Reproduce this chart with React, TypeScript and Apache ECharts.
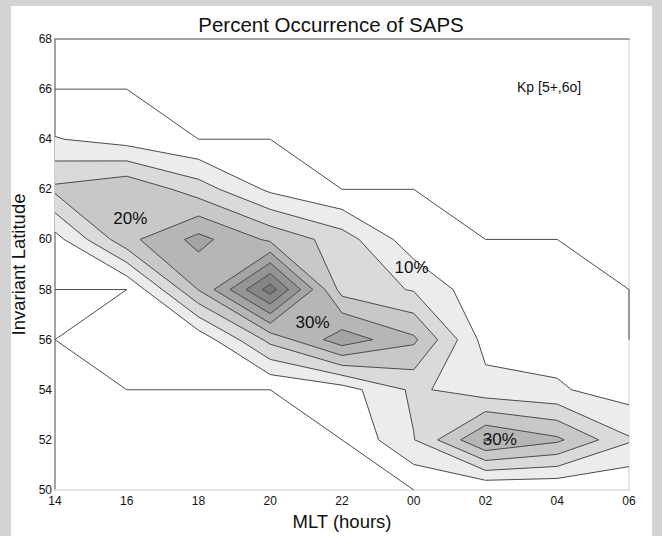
import React, { useEffect, useRef } from "react";
import * as echarts from "echarts";

// MLT grid columns (14 .. 30 = 06 next day) and their tick labels
const mltTicks = [14, 16, 18, 20, 22, 24, 26, 28, 30];
const mltLabels = ["14", "16", "18", "20", "22", "00", "02", "04", "06"];
// invariant latitude rows
const latitudes = [50, 52, 54, 56, 58, 60, 62, 64, 66, 68];

// percent occurrence, one row per latitude, one value per MLT column
const lat50 = [5, 5, 5, 5, 5, 5, 5.1, 5.2, 5.1];
const lat52 = [5, 5, 5, 5, 5, 14.8, 30.4, 26, 15.6];
const lat54 = [5, 5, 5, 5, 7.65, 16, 12, 10.6, 7.6];
const lat56 = [5, 7, 6.5, 21.5, 33, 26, 8, 8, 5];
const lat58 = [5, 5, 25.2, 47.5, 18, 14.6, 6.2, 6, 5];
const lat60 = [8.05, 23.5, 31.6, 24, 17.5, 7, 5, 5, 5];
const lat62 = [21.1, 24.3, 17.5, 9, 5, 5, 5, 5, 5];
const lat64 = [10.3, 7.9, 5, 5, 5, 5, 5, 5, 5];
const lat66 = [5, 5, 5, 5, 5, 5, 5, 5, 5];
const lat68 = [5, 5, 5, 5, 5, 5, 5, 5, 5];
const occurrence = [lat50, lat52, lat54, lat56, lat58, lat60, lat62, lat64, lat66, lat68];

// contour levels (%) and the fill of the band above each level
const levels = [5, 10, 15, 20, 25, 30, 35, 40, 45];
const bandColors = ["#ffffff", "#ececec", "#dadada", "#c8c8c8", "#b6b6b6", "#a4a4a4", "#949494", "#868686", "#797979"];

// in-plot percentage annotations
const noteTexts = ["20%", "10%", "30%", "30%"];
const noteMlt = [16.1, 23.94, 21.18, 26.4];
const noteLat = [60.83, 58.89, 56.7, 52.03];

type Pt = [number, number];

function cellGeometry(i: number, j: number, L: number) {
  const x0 = mltTicks[i], x1 = mltTicks[i + 1];
  const y0 = latitudes[j], y1 = latitudes[j + 1];
  const cs: Pt[] = [[x0, y0], [x1, y0], [x1, y1], [x0, y1]];
  const vs = [occurrence[j][i], occurrence[j][i + 1], occurrence[j + 1][i + 1], occurrence[j + 1][i]];
  const ins = vs.map((v) => v > L);
  const cross: (Pt | null)[] = [];
  for (let e = 0; e < 4; e++) {
    const a = e, b = (e + 1) % 4;
    if (ins[a] !== ins[b]) {
      const t = (L - vs[a]) / (vs[b] - vs[a]);
      cross.push([cs[a][0] + t * (cs[b][0] - cs[a][0]), cs[a][1] + t * (cs[b][1] - cs[a][1])]);
    } else cross.push(null);
  }
  const nIn = ins.filter(Boolean).length;
  const saddle = nIn === 2 && ins[0] === ins[2];
  const denom = vs[0] + vs[2] - vs[1] - vs[3];
  const saddleValue = denom !== 0 ? (vs[0] * vs[2] - vs[1] * vs[3]) / denom : (vs[0] + vs[1] + vs[2] + vs[3]) / 4;
  const centerIn = saddleValue > L;
  const polys: Pt[][] = [];
  const segs: Pt[][] = [];
  if (nIn === 0) return { polys, segs };
  if (saddle) {
    for (let k = 0; k < 4; k++) {
      const prev = cross[(k + 3) % 4] as Pt, next = cross[k] as Pt;
      if (centerIn) {
        if (!ins[k]) segs.push([prev, next]);
      } else if (ins[k]) {
        segs.push([prev, next]);
        polys.push([prev, cs[k], next]);
      }
    }
    if (centerIn) {
      const poly: Pt[] = [];
      for (let e = 0; e < 4; e++) {
        if (ins[e]) poly.push(cs[e]);
        if (cross[e]) poly.push(cross[e] as Pt);
      }
      polys.push(poly);
    }
  } else {
    const poly: Pt[] = [];
    const cr: Pt[] = [];
    for (let e = 0; e < 4; e++) {
      if (ins[e]) poly.push(cs[e]);
      if (cross[e]) {
        poly.push(cross[e] as Pt);
        cr.push(cross[e] as Pt);
      }
    }
    polys.push(poly);
    if (cr.length === 2) segs.push([cr[0], cr[1]]);
  }
  return { polys, segs };
}

function levelGeometry(L: number) {
  const polys: Pt[][] = [];
  const segs: Pt[][] = [];
  for (let j = 0; j < latitudes.length - 1; j++) {
    for (let i = 0; i < mltTicks.length - 1; i++) {
      const g = cellGeometry(i, j, L);
      polys.push(...g.polys);
      segs.push(...g.segs);
    }
  }
  return { polys, segs };
}

const FONT = "'Liberation Sans', Arial, Helvetica, sans-serif";

export default function App() {
  const ref = useRef<HTMLDivElement>(null);
  useEffect(() => {
    if (!ref.current) return;
    const chart = echarts.init(ref.current, undefined, { renderer: "svg" });
    const fillData = levels.map((_, k) => [14, 50, k]).filter((d) => d[2] > 0);
    const lineData = levels.map((_, k) => [14, 50, k]);
    const noteData = noteTexts.map((_, k) => [noteMlt[k], noteLat[k], k]);
    chart.setOption({
      animation: false,
      backgroundColor: "transparent",
      title: {
        text: "Percent Occurrence of SAPS",
        left: "center",
        top: 9,
        textStyle: { fontFamily: FONT, fontSize: 20.5, fontWeight: "normal", color: "#111" },
      },
      grid: { left: 55, right: 33, top: 39, bottom: 44, show: false },
      xAxis: [
        {
          type: "value",
          min: 14,
          max: 30,
          interval: 2,
          position: "bottom",
          name: "MLT (hours)",
          nameLocation: "middle",
          nameGap: 22,
          nameTextStyle: { fontFamily: FONT, fontSize: 18.5, color: "#111" },
          axisLine: { show: true, lineStyle: { color: "#dcdcdc", width: 1.5 } },
          axisTick: { show: false },
          splitLine: { show: false },
          axisLabel: {
            fontFamily: FONT,
            fontSize: 12,
            color: "#111",
            margin: 5,
            formatter: (v: number) => mltLabels[mltTicks.indexOf(v)] ?? "",
          },
        },
        {
          type: "value",
          min: 14,
          max: 30,
          interval: 2,
          position: "top",
          axisLine: { show: true, lineStyle: { color: "#858585", width: 1.5 } },
          axisTick: { show: false },
          axisLabel: { show: false },
          splitLine: { show: false },
        },
      ],
      yAxis: [
        {
          type: "value",
          min: 50,
          max: 68,
          interval: 2,
          position: "left",
          name: "Invariant Latitude",
          nameLocation: "middle",
          nameGap: 19,
          nameTextStyle: { fontFamily: FONT, fontSize: 18.5, color: "#111" },
          axisLine: { show: true, lineStyle: { color: "#858585", width: 1.5 } },
          axisTick: { show: false },
          splitLine: { show: false },
          axisLabel: { fontFamily: FONT, fontSize: 12, color: "#111", margin: 3 },
        },
        {
          type: "value",
          min: 50,
          max: 68,
          interval: 2,
          position: "right",
          axisLine: { show: true, lineStyle: { color: "#dcdcdc", width: 1.5 } },
          axisTick: { show: false },
          axisLabel: { show: false },
          splitLine: { show: false },
        },
      ],
      graphic: [
        {
          type: "text",
          left: 517,
          top: 80,
          style: { text: "Kp [5+,6o]", fontFamily: FONT, fontSize: 14, fill: "#111" },
        },
      ],
      series: [
        {
          type: "custom",
          name: "fills",
          z: 2,
          encode: { x: 0, y: 1 },
          data: fillData,
          renderItem: (_p: any, api: any) => {
            const k = api.value(2);
            const g = levelGeometry(levels[k]);
            const color = bandColors[k];
            return {
              type: "group",
              children: g.polys.map((pts) => ({
                type: "polygon",
                shape: { points: pts.map((p) => api.coord(p)) },
                style: { fill: color, stroke: color, lineWidth: 0.8 },
              })),
            };
          },
        },
        {
          type: "custom",
          name: "lines",
          z: 3,
          encode: { x: 0, y: 1 },
          data: lineData,
          renderItem: (_p: any, api: any) => {
            const k = api.value(2);
            const g = levelGeometry(levels[k]);
            return {
              type: "group",
              children: g.segs.map((s) => ({
                type: "polyline",
                shape: { points: s.map((p) => api.coord(p)) },
                style: { stroke: "#4d4d4d", lineWidth: 1, fill: "none" },
              })),
            };
          },
        },
        {
          type: "custom",
          name: "notes",
          z: 4,
          encode: { x: 0, y: 1 },
          data: noteData,
          renderItem: (_p: any, api: any) => {
            const k = api.value(2);
            const c = api.coord([api.value(0), api.value(1)]);
            return {
              type: "text",
              x: c[0],
              y: c[1],
              style: {
                text: noteTexts[k],
                fontFamily: FONT,
                fontSize: 17,
                fill: "#111",
                align: "center",
                verticalAlign: "middle",
              },
            };
          },
        },
      ],
    });
    return () => chart.dispose();
  }, []);
  return (
    <div style={{ position: "fixed", left: 0, top: 0, width: 662, height: 536, background: "#d3d3d3" }}>
      <div style={{ position: "absolute", left: 11, top: 6, width: 641, height: 530, background: "#ffffff" }} />
      <div ref={ref} style={{ position: "absolute", left: 0, top: 0, width: 662, height: 536 }} />
    </div>
  );
}
